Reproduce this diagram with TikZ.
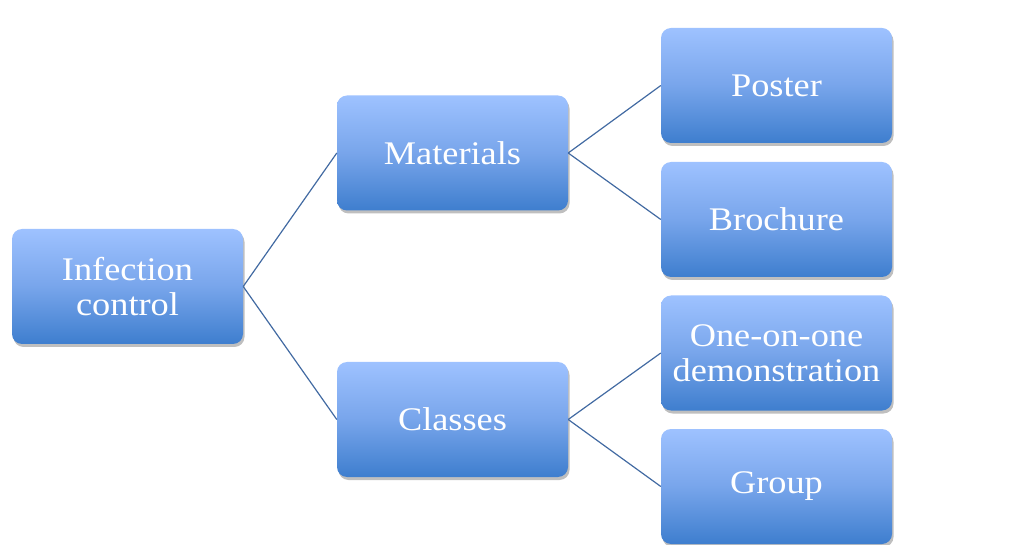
\documentclass[tikz,border=0pt]{standalone}
\usepackage{fontspec}
\setmainfont[FakeStretch=1.1]{Liberation Serif}
\usetikzlibrary{shadows}
\definecolor{boxtop}{RGB}{158,194,255}
\definecolor{boxmid}{RGB}{120,165,235}
\definecolor{boxbot}{RGB}{62,126,206}
\definecolor{linkcol}{RGB}{66,106,162}
\tikzset{
  box/.style={rectangle, rounded corners=10pt, minimum width=231pt, minimum height=115pt,
    inner sep=0pt, align=center, text=white, font=\fontsize{33}{35}\selectfont,
    top color=boxtop, bottom color=boxbot, middle color=boxmid,
    drop shadow={shadow xshift=1.5pt, shadow yshift=-3pt, opacity=0.25, fill=black}},
  link/.style={draw=linkcol, line width=1.2pt}
}
\begin{document}
\begin{tikzpicture}[x=1pt,y=-1pt]
\useasboundingbox (0,0) rectangle (1026,545);
\node[box] (ic) at (127.5,286.5) {Infection\\control};
\node[box] (mat) at (452.5,153) {Materials};
\node[box] (cls) at (452.5,419.5) {Classes};
\node[box] (pos) at (776.5,85.5) {Poster};
\node[box] (bro) at (776.5,219.5) {Brochure};
\node[box] (one) at (776.5,353) {One-on-one\\demonstration};
\node[box] (grp) at (776.5,486.5) {Group};
\draw[link] (ic.east) -- (mat.west);
\draw[link] (ic.east) -- (cls.west);
\draw[link] (mat.east) -- (pos.west);
\draw[link] (mat.east) -- (bro.west);
\draw[link] (cls.east) -- (one.west);
\draw[link] (cls.east) -- (grp.west);
\end{tikzpicture}
\end{document}
